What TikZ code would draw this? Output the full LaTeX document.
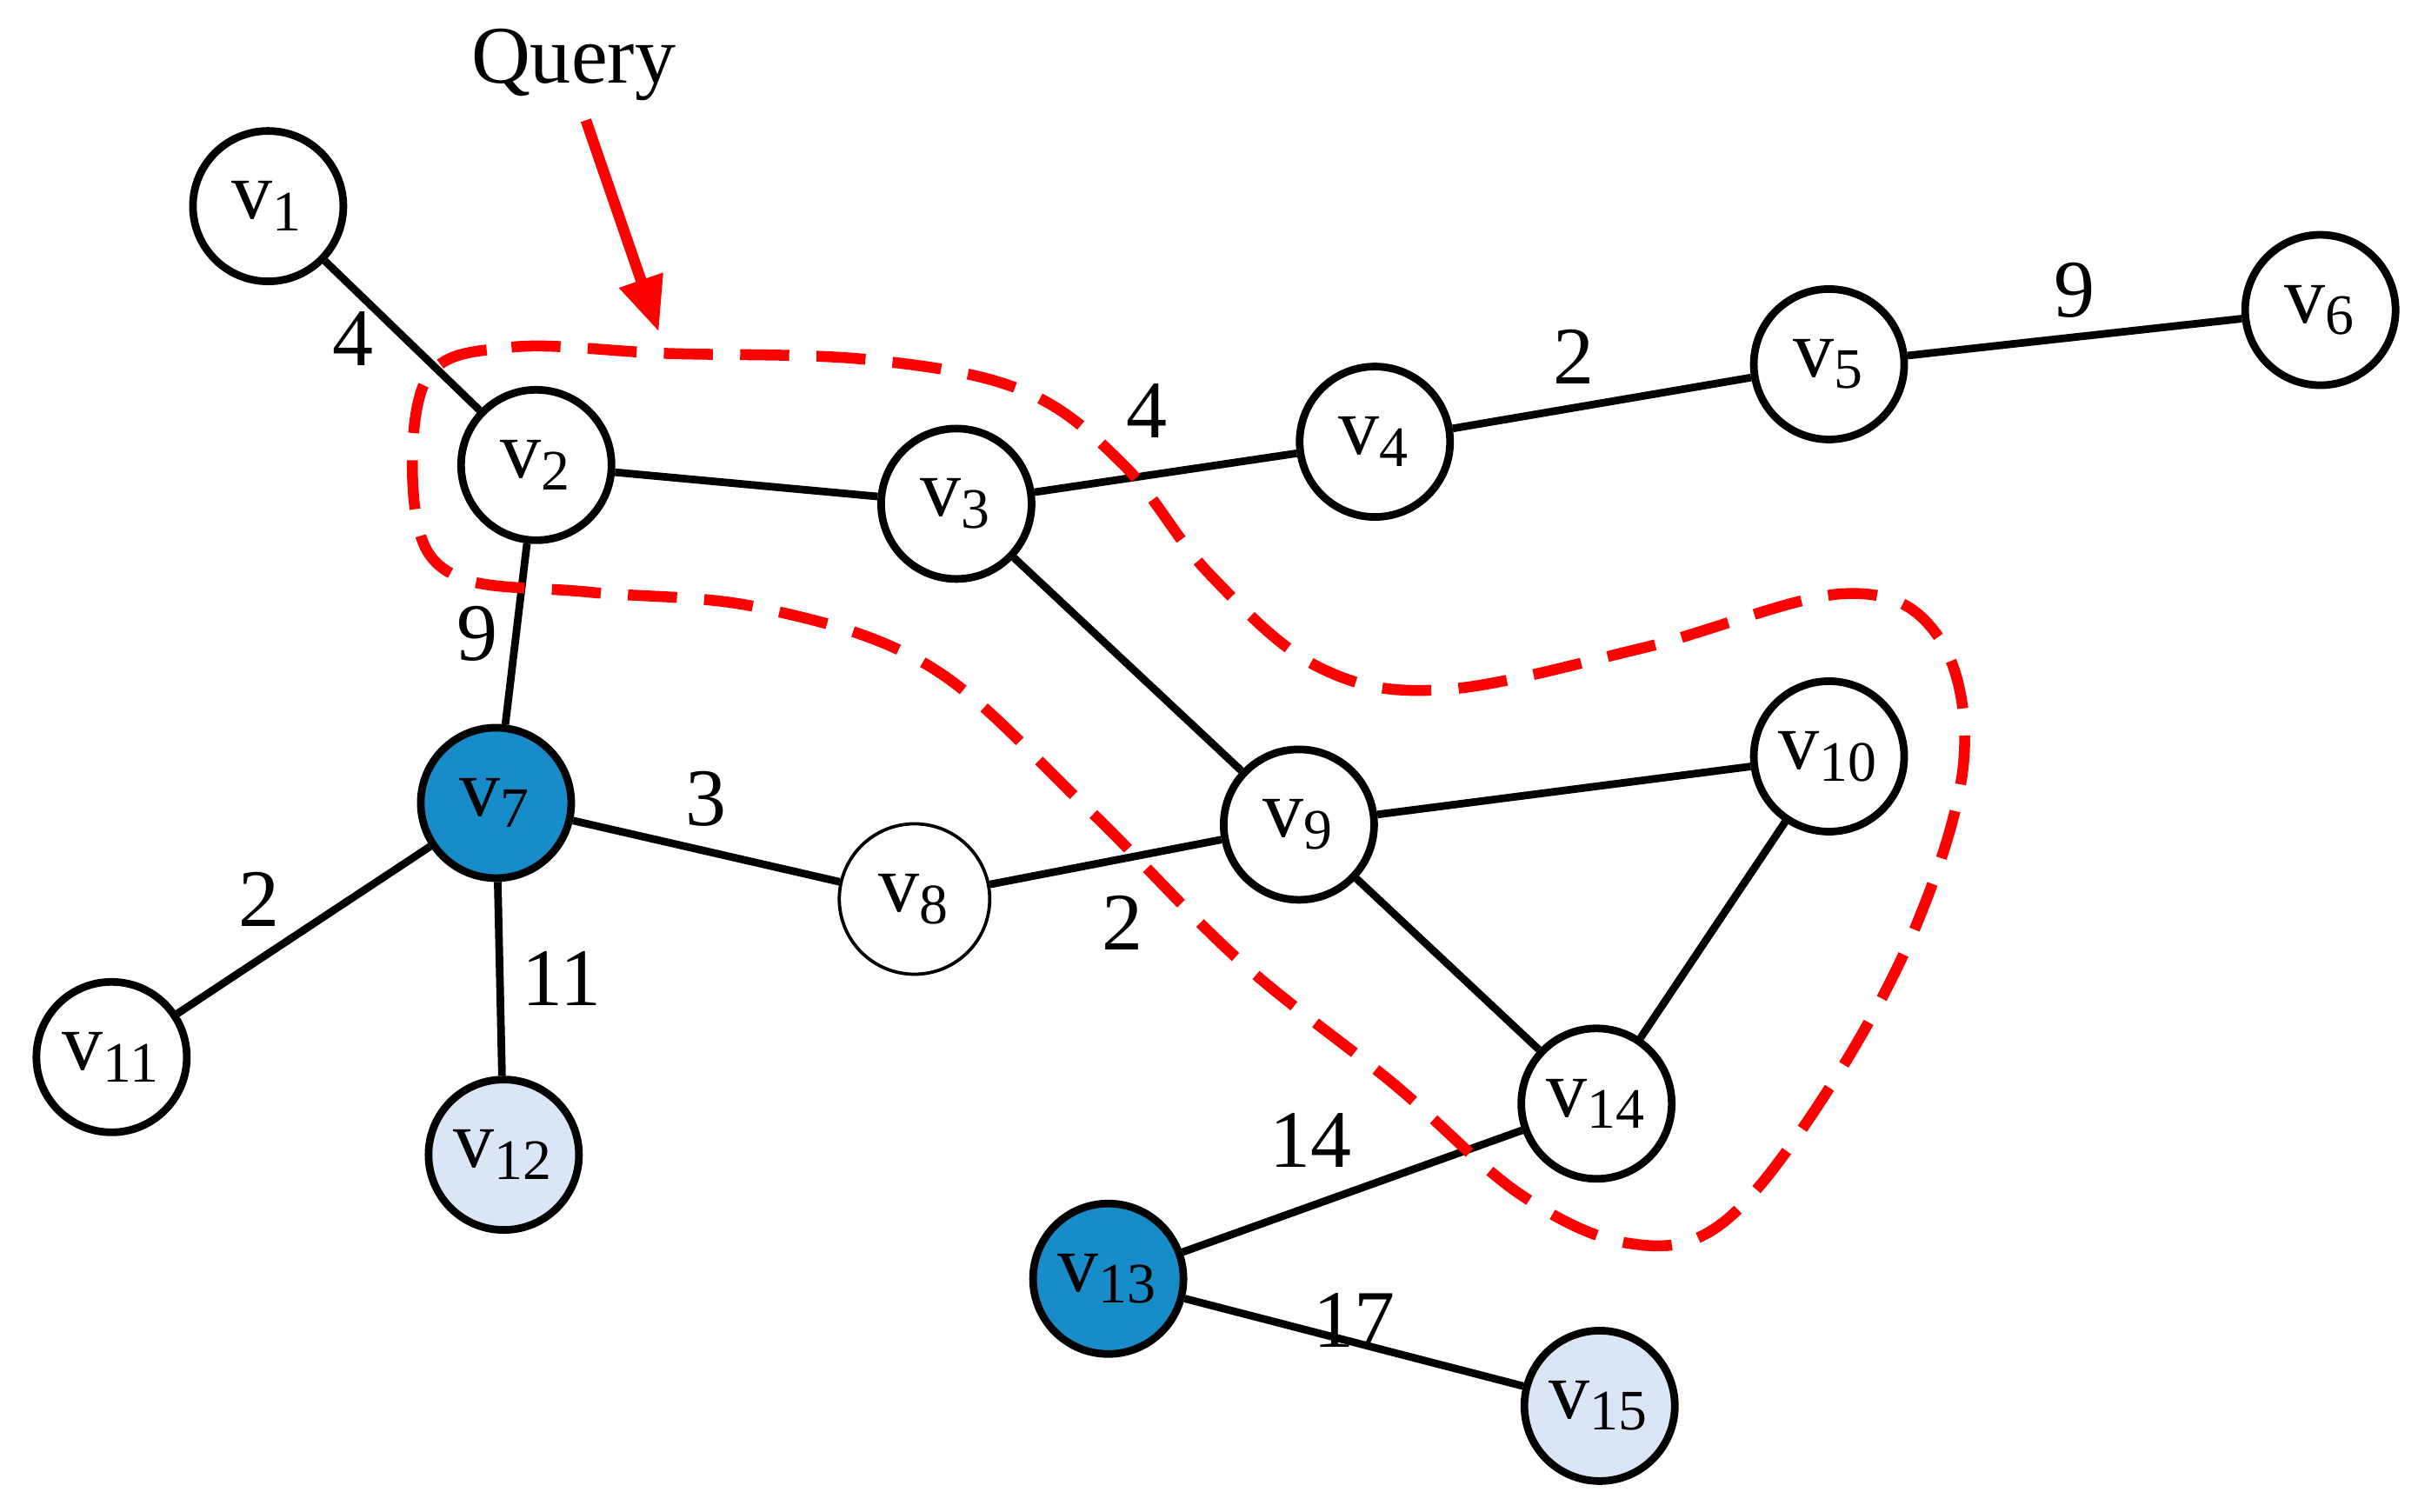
\documentclass[tikz,border=0pt]{standalone}
\usepackage{fontspec}
\setmainfont{Liberation Serif}
\usepackage{xcolor}
\usetikzlibrary{arrows.meta, positioning}
\definecolor{darkblue}{RGB}{24,140,200}
\definecolor{lightblue}{RGB}{216,230,245}

\begin{document}
\begin{tikzpicture}[
    x=0.01cm, y=-0.01cm,
    vertex/.style={circle, draw, line width=1.4pt, minimum size=0.97cm, inner sep=0pt, font=\fontsize{15}{17}\selectfont},
    edge/.style={line width=1.4pt},
    weight/.style={font=\fontsize{15}{17}\selectfont, inner sep=0pt},
    query/.style={red, line width=2pt, dashed, dash pattern=on 9pt off 5pt}
]
    \useasboundingbox (0,0) rectangle (1560,975);
    \node[vertex] (v1) at (173,133) {v\textsubscript{1}};
    \node[vertex] (v2) at (346,300) {v\textsubscript{2}};
    \node[vertex] (v3) at (617,325) {v\textsubscript{3}};
    \node[vertex] (v4) at (887,285) {v\textsubscript{4}};
    \node[vertex] (v5) at (1180,235) {v\textsubscript{5}};
    \node[vertex] (v6) at (1497,200) {v\textsubscript{6}};
    \node[vertex, fill=darkblue] (v7) at (320,518) {v\textsubscript{7}};
    \node[vertex, line width=0.6pt] (v8) at (590,580) {v\textsubscript{8}};
    \node[vertex] (v9) at (838,532) {v\textsubscript{9}};
    \node[vertex] (v10) at (1180,488) {v\textsubscript{10}};
    \node[vertex] (v11) at (72,682) {v\textsubscript{11}};
    \node[vertex, fill=lightblue] (v12) at (325,745) {v\textsubscript{12}};
    \node[vertex, fill=darkblue] (v13) at (715,825) {v\textsubscript{13}};
    \node[vertex] (v14) at (1030,712) {v\textsubscript{14}};
    \node[vertex, fill=lightblue] (v15) at (1032,907) {v\textsubscript{15}};

    \draw[edge] (v1) -- node[weight, xshift=-0.32cm, yshift=-0.02cm] {4} (v2);
    \draw[edge] (v2) -- (v3);
    \draw[edge] (v2) -- node[weight, xshift=-0.25cm] {9} (v7);
    \draw[edge] (v3) -- node[weight, xshift=-0.12cm, yshift=0.4cm] {4} (v4);
    \draw[edge] (v4) -- node[weight, xshift=-0.18cm, yshift=0.3cm] {2} (v5);
    \draw[edge] (v5) -- node[weight, yshift=0.3cm] {9} (v6);
    \draw[edge] (v3) -- (v9);
    \draw[edge] (v7) -- node[weight, yshift=0.34cm] {3} (v8);
    \draw[edge] (v8) -- node[weight, xshift=0.11cm, yshift=-0.39cm] {2} (v9);
    \draw[edge] (v9) -- (v10);
    \draw[edge] (v9) -- (v14);
    \draw[edge] (v10) -- (v14);
    \draw[edge] (v7) -- node[weight, xshift=-0.29cm, yshift=0.2cm] {2} (v11);
    \draw[edge] (v7) -- node[weight, xshift=0.4cm] {11} (v12);
    \draw[edge] (v13) -- node[weight, xshift=-0.27cm, yshift=0.33cm] {14} (v14);
    \draw[edge] (v13) -- node[weight, yshift=0.14cm] {17} (v15);

    % query region
    \draw[query] plot[smooth cycle, tension=0.6] coordinates {
        (275,245) (330,224) (430,228) (560,232) (660,252) (725,300) (780,370)
        (850,430) (930,445) (1060,418) (1190,383) (1250,410) (1267,490)
        (1235,600) (1175,710) (1110,790) (1050,802) (980,770) (900,700)
        (800,620) (700,520) (600,430) (490,392) (380,382) (295,372) (268,330)};
    \node[font=\fontsize{15}{17}\selectfont] (query) at (370,42) {Query};
    \coordinate (qtip) at (425,214);
    \draw[red, line width=2pt, -{Triangle[length=10pt, width=8pt]}] (query.south) ++(8,0) -- (qtip);
\end{tikzpicture}
\end{document}
